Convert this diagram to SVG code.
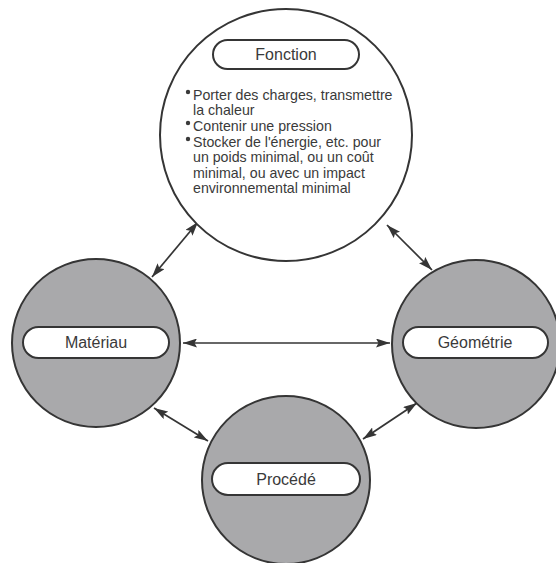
<svg xmlns="http://www.w3.org/2000/svg" width="556" height="563" viewBox="0 0 556 563">
  <style>
    .disc { fill: #a9a9ab; stroke: #353535; stroke-width: 2; }
    .disc-open { fill: #ffffff; stroke: #353535; stroke-width: 2; }
    .pill { fill: #ffffff; stroke: #353535; stroke-width: 2; }
    .label { font-family: "Liberation Sans", Arial, sans-serif; font-size: 16px; fill: #3a3a3a; text-anchor: middle; }
    .body { font-family: "Liberation Sans", Arial, sans-serif; font-size: 14.2px; fill: #3a3a3a; }
    .bullet { fill: #3a3a3a; }
    .link { stroke: #353535; stroke-width: 1.7; fill: none; marker-start: url(#head); marker-end: url(#head); }
  </style>
  <defs>
    <marker id="head" markerUnits="userSpaceOnUse" markerWidth="15" markerHeight="9" refX="14" refY="4.5" orient="auto-start-reverse">
      <path d="M0,0 L14,4.5 L0,9 L2.5,4.5 z" fill="#353535"/>
    </marker>
  </defs>
  <rect width="556" height="563" fill="#ffffff"/>

  <!-- Connectors -->
  <g id="connectors">
    <line class="link" x1="152" y1="277" x2="198" y2="222"/>
    <line class="link" x1="387" y1="225" x2="432" y2="270"/>
    <line class="link" x1="183" y1="343" x2="390" y2="343"/>
    <line class="link" x1="154" y1="408" x2="208" y2="441"/>
    <line class="link" x1="417" y1="403" x2="363" y2="439"/>
  </g>

  <!-- Function node -->
  <g id="fonction">
    <circle class="disc-open" cx="286" cy="135" r="126"/>
    <rect class="pill" x="213" y="40" width="146" height="29" rx="14.5"/>
    <text class="label" x="286" y="60">Fonction</text>
    <circle class="bullet" cx="188" cy="92" r="2.2"/>
    <circle class="bullet" cx="188" cy="123" r="2.2"/>
    <circle class="bullet" cx="188" cy="139" r="2.2"/>
    <text class="body" x="193" y="100">Porter des charges, transmettre</text>
    <text class="body" x="193" y="115">la chaleur</text>
    <text class="body" x="193" y="131">Contenir une pression</text>
    <text class="body" x="193" y="147">Stocker de l'énergie, etc. pour</text>
    <text class="body" x="193" y="162">un poids minimal, ou un coût</text>
    <text class="body" x="193" y="178">minimal, ou avec un impact</text>
    <text class="body" x="193" y="193">environnemental minimal</text>
  </g>

  <!-- Material node -->
  <g id="materiau">
    <circle class="disc" cx="96" cy="343" r="84"/>
    <rect class="pill" x="23" y="327" width="146" height="31" rx="15.5"/>
    <text class="label" x="96" y="348">Matériau</text>
  </g>

  <!-- Geometry node -->
  <g id="geometrie">
    <circle class="disc" cx="476" cy="344" r="84"/>
    <rect class="pill" x="403" y="327" width="145" height="31" rx="15.5"/>
    <text class="label" x="475" y="348">Géométrie</text>
  </g>

  <!-- Process node -->
  <g id="procede">
    <circle class="disc" cx="286" cy="480" r="84"/>
    <rect class="pill" x="212" y="463" width="148" height="32" rx="16"/>
    <text class="label" x="286" y="485">Procédé</text>
  </g>
</svg>
